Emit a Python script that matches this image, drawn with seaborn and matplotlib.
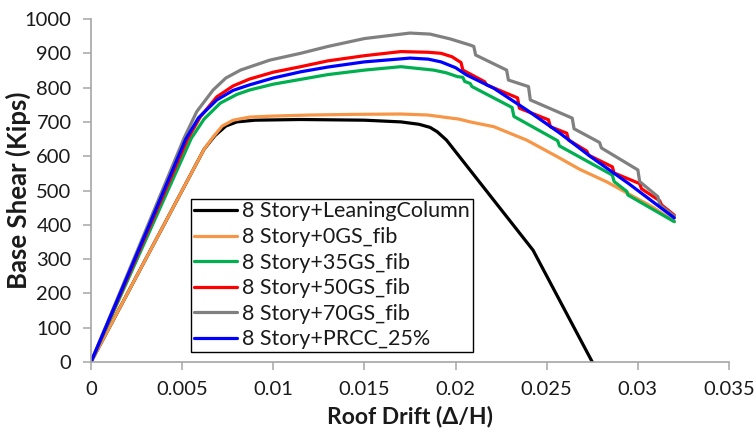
import matplotlib
matplotlib.use("Agg")
import matplotlib.pyplot as plt
import seaborn as sns
import pandas as pd

# Pushover curves: roof drift ratio vs. base shear (kips)
labels = [
    "8 Story+LeaningColumn",
    "8 Story+0GS_fib",
    "8 Story+35GS_fib",
    "8 Story+50GS_fib",
    "8 Story+70GS_fib",
    "8 Story+PRCC_25%",
]
colors = ["#000000", "#F79646", "#00B050", "#FF0000", "#808080", "#0000FF"]

lean_x = [0, 0.0062, 0.0068, 0.0074, 0.0080, 0.0090, 0.0115, 0.015, 0.017,
          0.018, 0.0186, 0.019, 0.0195, 0.02425, 0.0275]
lean_y = [0, 620, 660, 688, 700, 705, 707, 705, 700, 693, 684, 671, 647, 326, 0]

gs0_x = [0, 0.0062, 0.0067, 0.0072, 0.0078, 0.0087, 0.010, 0.012, 0.0145,
         0.017, 0.0185, 0.0192, 0.0202, 0.0208, 0.0221, 0.0239, 0.0257,
         0.0268, 0.0283, 0.0295, 0.0308, 0.032]
gs0_y = [0, 620, 656, 688, 705, 714, 717, 720, 722, 723, 720, 715, 708, 700,
         686, 647, 595, 562, 525, 490, 452, 410]

gs35_x = [0, 0.0055, 0.0062, 0.0071, 0.0080, 0.0087, 0.010, 0.0115, 0.013,
          0.015, 0.017, 0.0188, 0.0195, 0.0201, 0.0204, 0.0205, 0.0208,
          0.0209, 0.0231, 0.0232, 0.0256, 0.0257, 0.0286, 0.0287, 0.0294,
          0.02945, 0.032]
gs35_y = [0, 652, 708, 755, 780, 793, 810, 824, 838, 851, 861, 851, 843, 832,
          830, 818, 812, 803, 742, 716, 645, 630, 545, 526, 497, 487, 409]

gs50_x = [0, 0.0053, 0.0060, 0.0069, 0.0078, 0.0087, 0.010, 0.0115, 0.013,
          0.015, 0.017, 0.0185, 0.0192, 0.0198, 0.0203, 0.0204, 0.0216,
          0.0217, 0.0234, 0.0235, 0.0251, 0.0252, 0.0261, 0.0262, 0.0272,
          0.0273, 0.0286, 0.0287, 0.0301, 0.0302, 0.0312, 0.0313, 0.032]
gs50_y = [0, 650, 715, 773, 805, 825, 845, 861, 878, 893, 905, 903, 900, 890,
          873, 851, 817, 808, 770, 740, 706, 686, 667, 647, 615, 603, 569, 551,
          520, 505, 470, 458, 428]

gs70_x = [0, 0.0051, 0.0058, 0.0067, 0.0074, 0.0082, 0.0098, 0.0115, 0.013,
          0.015, 0.0175, 0.0186, 0.0197, 0.0208, 0.0210, 0.0211, 0.0228,
          0.0229, 0.0240, 0.0241, 0.0264, 0.0265, 0.0279, 0.0280, 0.0300,
          0.0301, 0.0311, 0.0312, 0.032]
gs70_y = [0, 652, 730, 793, 828, 851, 880, 900, 920, 943, 959, 956, 942, 924,
          920, 895, 851, 822, 803, 764, 711, 680, 640, 624, 560, 526, 482, 458,
          425]

prcc_x = [0, 0.0052, 0.0059, 0.0069, 0.0078, 0.0087, 0.010, 0.0115, 0.013,
          0.015, 0.0175, 0.0185, 0.0192, 0.0200, 0.0206, 0.0221, 0.0239,
          0.0257, 0.0274, 0.0295, 0.032]
prcc_y = [0, 650, 712, 764, 792, 808, 828, 846, 860, 875, 886, 883, 875, 858,
          837, 798, 735, 668, 599, 520, 420]

x_ticks = [0, 0.005, 0.01, 0.015, 0.02, 0.025, 0.03, 0.035]
x_tick_labels = ["0", "0.005", "0.01", "0.015", "0.02", "0.025", "0.03", "0.035"]
y_ticks = [0, 100, 200, 300, 400, 500, 600, 700, 800, 900, 1000]

series = [(lean_x, lean_y), (gs0_x, gs0_y), (gs35_x, gs35_y),
          (gs50_x, gs50_y), (gs70_x, gs70_y), (prcc_x, prcc_y)]
frames = []
for name, (xs, ys) in zip(labels, series):
    frames.append(pd.DataFrame({"drift": xs, "shear": ys, "model": name}))
df = pd.concat(frames, ignore_index=True)

sns.set_style("white")
plt.rcParams["font.family"] = ["Lato", "DejaVu Sans"]

fig = plt.figure(figsize=(7.54, 4.33), dpi=100)
ax = fig.add_axes([91 / 754, 1 - 362 / 433, 638 / 754, 343 / 433])

sns.lineplot(data=df, x="drift", y="shear", hue="model", hue_order=labels,
             palette=dict(zip(labels, colors)), sort=False, estimator=None,
             units="model", linewidth=2.3, ax=ax, legend=False)

ax.set_xlim(0, 0.035)
ax.set_ylim(0, 1000)
ax.set_xticks(x_ticks)
ax.set_xticklabels(x_tick_labels)
ax.set_yticks(y_ticks)
ax.margins(0)

axis_gray = "#A6A6A6"
for side in ["top", "right"]:
    ax.spines[side].set_visible(False)
for side in ["left", "bottom"]:
    ax.spines[side].set_color(axis_gray)
    ax.spines[side].set_linewidth(1.2)

ax.tick_params(axis="both", which="major", direction="out", length=6,
               width=1.1, color=axis_gray, labelsize=14.5, labelcolor="#1a1a1a")
ax.tick_params(axis="x", pad=8)
ax.tick_params(axis="y", pad=8)
ax.xaxis.set_ticks_position("bottom")
ax.yaxis.set_ticks_position("left")

ax.set_xlabel("Roof Drift (\u0394/H)", fontsize=16.5, fontweight="bold",
              color="#1a1a1a")
ax.set_ylabel("Base Shear (Kips)", fontsize=18.5, fontweight="bold",
              color="#1a1a1a")
ax.xaxis.set_label_coords(0.5, -0.128)
ax.yaxis.set_label_coords(-0.094, 0.5)

handles = [plt.Line2D([], [], color=c, linewidth=2.3) for c in colors]
leg = ax.legend(handles, labels, loc="lower left",
                bbox_to_anchor=(0.157, 0.029), fontsize=15.5, frameon=True,
                fancybox=False, framealpha=1, edgecolor="#000000",
                handlelength=2.0, handletextpad=0.25, labelspacing=0.26,
                borderpad=0.12, borderaxespad=0)
leg.get_frame().set_linewidth(1.0)
for t in leg.get_texts():
    t.set_color("#1a1a1a")

fig.savefig("out.png", dpi=100)
